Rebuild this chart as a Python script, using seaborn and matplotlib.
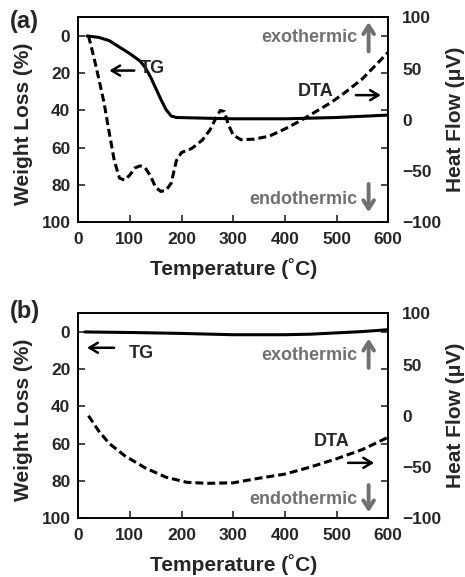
import matplotlib
matplotlib.use("Agg")
import matplotlib.pyplot as plt
import seaborn as sns
import pandas as pd

# ---------------- data ----------------
# Panel (a)
tg_a_T = [17, 40, 60, 80, 100, 120, 130, 140, 150, 160, 170, 180, 190, 250, 300, 400, 500, 600]
tg_a_W = [0, 0.8, 2.5, 6, 9.5, 13.5, 17, 22, 28, 34, 39.5, 43, 43.8, 44.2, 44.5, 44.5, 43.8, 42.5]

dta_a_T = [20, 30, 40, 50, 60, 70, 80, 90, 100, 110, 120, 130, 140, 150, 160, 170, 180, 190,
           200, 220, 240, 255, 265, 275, 283, 290, 300, 315, 340, 370, 400, 430, 460, 490,
           520, 550, 575, 600]
dta_a_H = [82, 62, 40, 17, -12, -40, -57, -59, -54, -47, -45, -47, -55, -66, -70, -69, -62, -40,
           -32, -28, -20, -10, 0, 9, 8, -4, -15, -19.5, -19, -16, -9, -1, 8, 17,
           28, 40, 53, 66]

# Panel (b)
tg_b_T = [13, 100, 200, 300, 400, 450, 500, 550, 600]
tg_b_W = [0, 0.3, 0.8, 1.5, 1.5, 1.2, 0.5, -0.2, -1.2]

dta_b_T = [20, 40, 60, 90, 130, 170, 210, 250, 300, 350, 400, 450, 500, 550, 600]
dta_b_H = [0, -15, -27, -39, -51, -60, -65, -66, -65.5, -61, -57, -50, -42, -33, -21]

x_ticks = [0, 100, 200, 300, 400, 500, 600]
left_ticks = [0, 20, 40, 60, 80, 100]
right_ticks = [-100, -50, 0, 50, 100]

# ---------------- style ----------------
sns.set_theme(style="ticks")
plt.rcParams["font.family"] = ["Liberation Sans", "DejaVu Sans"]
plt.rcParams["font.weight"] = "bold"
plt.rcParams["axes.labelweight"] = "bold"

fig = plt.figure(figsize=(4.65, 5.77), dpi=100)
fig.patch.set_facecolor("white")

GRAY = "#707070"
LW = 2.2
TICK_FS = 12.5
LABEL_FS = 15
ANN_FS = 13


def make_panel(rect, tgT, tgW, dT, dH, letter, letter_y, ann):
    ax = fig.add_axes(rect)
    ax2 = ax.twinx()
    tg = pd.DataFrame({"T": tgT, "W": tgW})
    dt = pd.DataFrame({"T": dT, "H": dH})
    sns.lineplot(data=tg, x="T", y="W", ax=ax, color="black", lw=LW, sort=False)
    sns.lineplot(data=dt, x="T", y="H", ax=ax2, color="black", lw=LW, sort=False)
    ax2.lines[0].set_dashes((2.6, 1.3))

    ax.set_xlim(0, 600)
    ax.set_ylim(100, -10)
    ax2.set_ylim(-100, 100)
    ax.set_xticks(x_ticks)
    ax.set_yticks(left_ticks)
    ax2.set_yticks(right_ticks)

    ax.tick_params(axis="both", direction="in", length=5, width=1.2, labelsize=TICK_FS,
                   left=True, right=True, bottom=True, top=False)
    ax.tick_params(axis="x", pad=7)
    ax.tick_params(axis="y", pad=5.5)
    ax2.tick_params(axis="y", length=0, labelsize=TICK_FS, pad=10)
    for a in (ax, ax2):
        for s in a.spines.values():
            s.set_linewidth(1.2)
            s.set_color("black")
        for lab in a.get_xticklabels() + a.get_yticklabels():
            lab.set_fontweight("bold")

    ax.set_xlabel("Temperature (˚C)", fontsize=LABEL_FS, fontweight="bold")
    ax.set_ylabel("Weight Loss (%)", fontsize=LABEL_FS, fontweight="bold")
    ax2.set_ylabel("Heat Flow (μV)", fontsize=LABEL_FS, fontweight="bold")
    ax.xaxis.set_label_coords(0.5, -0.173)
    ax.yaxis.set_label_coords(-0.145, 0.48)
    ax2.yaxis.set_label_coords(1.185, 0.5)

    # annotations (TG on left axis, others on right axis)
    (tgx0, tgx1, tgy, tgtx, tgty,
     dx0, dx1, dy, dtx, dty,
     exo_y, up0, up1, endo_y, dn0, dn1) = ann
    ax.annotate("", xy=(tgx1, tgy), xytext=(tgx0, tgy),
                arrowprops=dict(arrowstyle="->,head_length=0.5,head_width=0.3", lw=1.8, color="black"))
    ax.text(tgtx, tgty, "TG", fontsize=ANN_FS, fontweight="bold", ha="left", va="center")
    ax2.annotate("", xy=(dx1, dy), xytext=(dx0, dy),
                 arrowprops=dict(arrowstyle="->,head_length=0.5,head_width=0.3", lw=1.8, color="black"))
    ax2.text(dtx, dty, "DTA", fontsize=ANN_FS, fontweight="bold", ha="center", va="center")
    ax2.text(540, exo_y, "exothermic", fontsize=ANN_FS, fontweight="bold", color=GRAY,
             ha="right", va="center")
    ax2.text(540, endo_y, "endothermic", fontsize=ANN_FS, fontweight="bold", color=GRAY,
             ha="right", va="center")
    ax2.annotate("", xy=(562, up1), xytext=(562, up0),
                 arrowprops=dict(arrowstyle="->,head_length=0.5,head_width=0.32", lw=2.8, color=GRAY))
    ax2.annotate("", xy=(562, dn1), xytext=(562, dn0),
                 arrowprops=dict(arrowstyle="->,head_length=0.5,head_width=0.32", lw=2.8, color=GRAY))

    fig.text(0.022, letter_y, letter, fontsize=17, fontweight="bold", ha="left", va="top")
    return ax, ax2


make_panel([0.168, 0.615, 0.667, 0.355], tg_a_T, tg_a_W, dta_a_T, dta_a_H, "(a)", 0.982,
           (114, 55, 18.6, 120, 17.4,
            532, 591, 24, 459, 28,
            80, 64, 98, -77.6, -60, -93))

make_panel([0.168, 0.102, 0.667, 0.355], tg_b_T, tg_b_W, dta_b_T, dta_b_H, "(b)", 0.48,
           (75, 12, 8.5, 97, 11.5,
            517, 578, -46, 491, -25.5,
            59, 44, 78, -82, -65, -97))

fig.savefig("out.png", dpi=100, facecolor="white")
